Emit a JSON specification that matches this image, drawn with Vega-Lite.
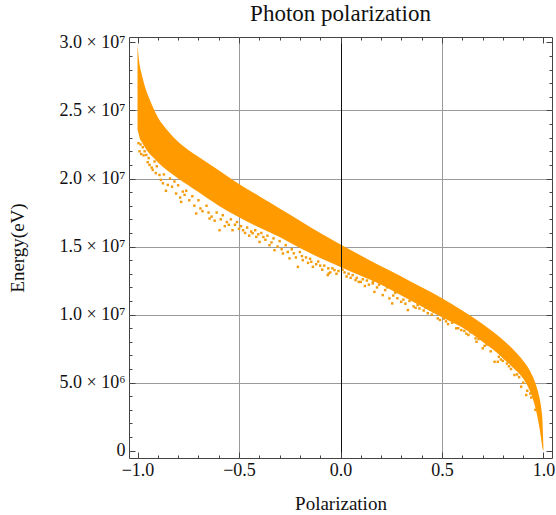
{
  "$schema": "https://vega.github.io/schema/vega-lite/v6.json",
  "width": 423,
  "height": 421,
  "autosize": {"type": "none"},
  "padding": {"left": 129, "top": 37, "right": 4, "bottom": 57},
  "background": "white",
  "title": {
    "text": "Photon polarization",
    "font": "Liberation Serif",
    "fontSize": 23,
    "fontWeight": "normal",
    "color": "#111111",
    "offset": 7
  },
  "config": {
    "view": {"stroke": "#444444", "strokeWidth": 1},
    "axis": {
      "labelFont": "Liberation Serif",
      "titleFont": "Liberation Serif",
      "labelFontSize": 18,
      "titleFontSize": 19,
      "titleFontWeight": "normal",
      "labelColor": "#111111",
      "titleColor": "#111111",
      "tickColor": "#444444",
      "domain": false,
      "grid": false
    }
  },
  "datasets": {
    "band": [
      {"p": -1.0, "upper": 2.99e7, "lower": 2.36e7},
      {"p": -0.995, "upper": 2.90e7, "lower": 2.33e7},
      {"p": -0.99, "upper": 2.84e7, "lower": 2.30e7},
      {"p": -0.98, "upper": 2.77e7, "lower": 2.27e7},
      {"p": -0.96, "upper": 2.66e7, "lower": 2.22e7},
      {"p": -0.94, "upper": 2.58e7, "lower": 2.18e7},
      {"p": -0.92, "upper": 2.51e7, "lower": 2.15e7},
      {"p": -0.9, "upper": 2.45e7, "lower": 2.12e7},
      {"p": -0.85, "upper": 2.35e7, "lower": 2.055e7},
      {"p": -0.8, "upper": 2.27e7, "lower": 2.00e7},
      {"p": -0.75, "upper": 2.21e7, "lower": 1.95e7},
      {"p": -0.7, "upper": 2.16e7, "lower": 1.90e7},
      {"p": -0.6, "upper": 2.06e7, "lower": 1.80e7},
      {"p": -0.5, "upper": 1.96e7, "lower": 1.715e7},
      {"p": -0.4, "upper": 1.87e7, "lower": 1.64e7},
      {"p": -0.3, "upper": 1.78e7, "lower": 1.57e7},
      {"p": -0.2, "upper": 1.69e7, "lower": 1.49e7},
      {"p": -0.1, "upper": 1.60e7, "lower": 1.415e7},
      {"p": 0.0, "upper": 1.515e7, "lower": 1.35e7},
      {"p": 0.1, "upper": 1.435e7, "lower": 1.285e7},
      {"p": 0.2, "upper": 1.355e7, "lower": 1.22e7},
      {"p": 0.3, "upper": 1.28e7, "lower": 1.14e7},
      {"p": 0.4, "upper": 1.20e7, "lower": 1.06e7},
      {"p": 0.5, "upper": 1.12e7, "lower": 0.98e7},
      {"p": 0.6, "upper": 1.03e7, "lower": 0.905e7},
      {"p": 0.7, "upper": 0.93e7, "lower": 0.80e7},
      {"p": 0.75, "upper": 0.875e7, "lower": 0.745e7},
      {"p": 0.8, "upper": 0.815e7, "lower": 0.68e7},
      {"p": 0.85, "upper": 0.745e7, "lower": 0.61e7},
      {"p": 0.9, "upper": 0.66e7, "lower": 0.53e7},
      {"p": 0.93, "upper": 0.595e7, "lower": 0.45e7},
      {"p": 0.95, "upper": 0.535e7, "lower": 0.37e7},
      {"p": 0.97, "upper": 0.45e7, "lower": 0.25e7},
      {"p": 0.98, "upper": 0.39e7, "lower": 0.17e7},
      {"p": 0.99, "upper": 0.30e7, "lower": 0.07e7},
      {"p": 0.995, "upper": 0.22e7, "lower": 0.02e7},
      {"p": 1.0, "upper": 0.0, "lower": 0.0}
    ],
    "scatter": [
      {"p": -0.995, "e": 2.26e7},
      {"p": -0.99, "e": 2.20e7},
      {"p": -0.985, "e": 2.25e7},
      {"p": -0.982, "e": 2.18e7},
      {"p": -0.974, "e": 2.23e7},
      {"p": -0.97, "e": 2.17e7},
      {"p": -0.965, "e": 2.20e7},
      {"p": -0.957, "e": 2.173e7},
      {"p": -0.95, "e": 2.12e7},
      {"p": -0.945, "e": 2.15e7},
      {"p": -0.941, "e": 2.100e7},
      {"p": -0.93, "e": 2.08e7},
      {"p": -0.925, "e": 2.063e7},
      {"p": -0.916, "e": 2.125e7},
      {"p": -0.91, "e": 2.04e7},
      {"p": -0.905, "e": 2.09e7},
      {"p": -0.892, "e": 2.026e7},
      {"p": -0.885, "e": 1.99e7},
      {"p": -0.875, "e": 1.965e7},
      {"p": -0.87, "e": 2.03e7},
      {"p": -0.86, "e": 1.91e7},
      {"p": -0.851, "e": 1.953e7},
      {"p": -0.84, "e": 2.00e7},
      {"p": -0.83, "e": 1.94e7},
      {"p": -0.818, "e": 1.978e7},
      {"p": -0.81, "e": 1.89e7},
      {"p": -0.8, "e": 1.95e7},
      {"p": -0.79, "e": 1.86e7},
      {"p": -0.785, "e": 1.828e7},
      {"p": -0.777, "e": 1.904e7},
      {"p": -0.768, "e": 1.880e7},
      {"p": -0.76, "e": 1.91e7},
      {"p": -0.745, "e": 1.84e7},
      {"p": -0.73, "e": 1.87e7},
      {"p": -0.72, "e": 1.80e7},
      {"p": -0.711, "e": 1.743e7},
      {"p": -0.7, "e": 1.84e7},
      {"p": -0.69, "e": 1.78e7},
      {"p": -0.68, "e": 1.76e7},
      {"p": -0.66, "e": 1.80e7},
      {"p": -0.65, "e": 1.75e7},
      {"p": -0.645, "e": 1.706e7},
      {"p": -0.635, "e": 1.72e7},
      {"p": -0.62, "e": 1.69e7},
      {"p": -0.61, "e": 1.75e7},
      {"p": -0.596, "e": 1.620e7},
      {"p": -0.59, "e": 1.70e7},
      {"p": -0.58, "e": 1.73e7},
      {"p": -0.57, "e": 1.65e7},
      {"p": -0.56, "e": 1.68e7},
      {"p": -0.55, "e": 1.66e7},
      {"p": -0.54, "e": 1.70e7},
      {"p": -0.532, "e": 1.620e7},
      {"p": -0.52, "e": 1.66e7},
      {"p": -0.51, "e": 1.68e7},
      {"p": -0.5, "e": 1.63e7},
      {"p": -0.49, "e": 1.65e7},
      {"p": -0.48, "e": 1.62e7},
      {"p": -0.47, "e": 1.60e7},
      {"p": -0.46, "e": 1.64e7},
      {"p": -0.45, "e": 1.58e7},
      {"p": -0.44, "e": 1.61e7},
      {"p": -0.433, "e": 1.598e7},
      {"p": -0.42, "e": 1.62e7},
      {"p": -0.415, "e": 1.571e7},
      {"p": -0.405, "e": 1.59e7},
      {"p": -0.399, "e": 1.534e7},
      {"p": -0.39, "e": 1.60e7},
      {"p": -0.38, "e": 1.57e7},
      {"p": -0.37, "e": 1.55e7},
      {"p": -0.36, "e": 1.58e7},
      {"p": -0.35, "e": 1.510e7},
      {"p": -0.34, "e": 1.53e7},
      {"p": -0.33, "e": 1.56e7},
      {"p": -0.325, "e": 1.473e7},
      {"p": -0.31, "e": 1.50e7},
      {"p": -0.3, "e": 1.54e7},
      {"p": -0.29, "e": 1.48e7},
      {"p": -0.284, "e": 1.449e7},
      {"p": -0.27, "e": 1.51e7},
      {"p": -0.26, "e": 1.46e7},
      {"p": -0.251, "e": 1.413e7},
      {"p": -0.24, "e": 1.48e7},
      {"p": -0.23, "e": 1.45e7},
      {"p": -0.22, "e": 1.42e7},
      {"p": -0.21, "e": 1.351e7},
      {"p": -0.2, "e": 1.46e7},
      {"p": -0.19, "e": 1.43e7},
      {"p": -0.186, "e": 1.400e7},
      {"p": -0.17, "e": 1.42e7},
      {"p": -0.16, "e": 1.38e7},
      {"p": -0.15, "e": 1.41e7},
      {"p": -0.144, "e": 1.388e7},
      {"p": -0.136, "e": 1.351e7},
      {"p": -0.12, "e": 1.37e7},
      {"p": -0.11, "e": 1.39e7},
      {"p": -0.1, "e": 1.36e7},
      {"p": -0.09, "e": 1.33e7},
      {"p": -0.08, "e": 1.36e7},
      {"p": -0.063, "e": 1.290e7},
      {"p": -0.06, "e": 1.34e7},
      {"p": -0.058, "e": 1.302e7},
      {"p": -0.05, "e": 1.31e7},
      {"p": -0.04, "e": 1.34e7},
      {"p": -0.03, "e": 1.327e7},
      {"p": -0.02, "e": 1.30e7},
      {"p": -0.01, "e": 1.32e7},
      {"p": 0.01, "e": 1.33e7},
      {"p": 0.02, "e": 1.31e7},
      {"p": 0.03, "e": 1.28e7},
      {"p": 0.04, "e": 1.30e7},
      {"p": 0.05, "e": 1.27e7},
      {"p": 0.06, "e": 1.29e7},
      {"p": 0.074, "e": 1.253e7},
      {"p": 0.08, "e": 1.27e7},
      {"p": 0.09, "e": 1.24e7},
      {"p": 0.1, "e": 1.24e7},
      {"p": 0.11, "e": 1.26e7},
      {"p": 0.12, "e": 1.21e7},
      {"p": 0.13, "e": 1.25e7},
      {"p": 0.14, "e": 1.22e7},
      {"p": 0.159, "e": 1.229e7},
      {"p": 0.16, "e": 1.24e7},
      {"p": 0.167, "e": 1.167e7},
      {"p": 0.18, "e": 1.20e7},
      {"p": 0.19, "e": 1.22e7},
      {"p": 0.208, "e": 1.143e7},
      {"p": 0.22, "e": 1.18e7},
      {"p": 0.23, "e": 1.20e7},
      {"p": 0.241, "e": 1.119e7},
      {"p": 0.255, "e": 1.082e7},
      {"p": 0.26, "e": 1.14e7},
      {"p": 0.27, "e": 1.16e7},
      {"p": 0.28, "e": 1.12e7},
      {"p": 0.299, "e": 1.094e7},
      {"p": 0.31, "e": 1.11e7},
      {"p": 0.32, "e": 1.08e7},
      {"p": 0.332, "e": 1.033e7},
      {"p": 0.34, "e": 1.10e7},
      {"p": 0.36, "e": 1.06e7},
      {"p": 0.37, "e": 1.05e7},
      {"p": 0.38, "e": 1.07e7},
      {"p": 0.389, "e": 1.045e7},
      {"p": 0.41, "e": 1.03e7},
      {"p": 0.42, "e": 1.05e7},
      {"p": 0.43, "e": 1.01e7},
      {"p": 0.45, "e": 1.00e7},
      {"p": 0.46, "e": 1.02e7},
      {"p": 0.479, "e": 0.972e7},
      {"p": 0.49, "e": 0.96e7},
      {"p": 0.51, "e": 0.97e7},
      {"p": 0.52, "e": 0.95e7},
      {"p": 0.53, "e": 0.93e7},
      {"p": 0.55, "e": 0.94e7},
      {"p": 0.57, "e": 0.899e7},
      {"p": 0.58, "e": 0.90e7},
      {"p": 0.595, "e": 0.886e7},
      {"p": 0.61, "e": 0.88e7},
      {"p": 0.62, "e": 0.86e7},
      {"p": 0.63, "e": 0.85e7},
      {"p": 0.64, "e": 0.87e7},
      {"p": 0.665, "e": 0.825e7},
      {"p": 0.67, "e": 0.80e7},
      {"p": 0.68, "e": 0.82e7},
      {"p": 0.701, "e": 0.752e7},
      {"p": 0.71, "e": 0.77e7},
      {"p": 0.72, "e": 0.78e7},
      {"p": 0.74, "e": 0.73e7},
      {"p": 0.759, "e": 0.653e7},
      {"p": 0.775, "e": 0.653e7},
      {"p": 0.78, "e": 0.69e7},
      {"p": 0.79, "e": 0.67e7},
      {"p": 0.8, "e": 0.66e7},
      {"p": 0.82, "e": 0.64e7},
      {"p": 0.83, "e": 0.62e7},
      {"p": 0.84, "e": 0.60e7},
      {"p": 0.857, "e": 0.556e7},
      {"p": 0.87, "e": 0.56e7},
      {"p": 0.88, "e": 0.54e7},
      {"p": 0.89, "e": 0.470e7},
      {"p": 0.9, "e": 0.50e7},
      {"p": 0.915, "e": 0.409e7},
      {"p": 0.92, "e": 0.44e7},
      {"p": 0.935, "e": 0.42e7},
      {"p": 0.94, "e": 0.39e7},
      {"p": 0.96, "e": 0.30e7}
    ]
  },
  "resolve": {"axis": {"x": "independent", "y": "independent"}},
  "layer": [
    {
      "data": {"name": "scatter"},
      "mark": {"type": "point", "opacity": 0},
      "encoding": {
        "x": {"field": "p", "type": "quantitative",
          "axis": {"orient": "bottom", "values": [-0.5, 0.5], "grid": true, "gridColor": "#9a9a9a", "gridWidth": 1, "ticks": false, "labels": false, "title": null, "zindex": 0}},
        "y": {"field": "e", "type": "quantitative",
          "axis": {"orient": "left", "values": [5000000, 10000000, 15000000, 20000000, 25000000], "grid": true, "gridColor": "#9a9a9a", "gridWidth": 1, "ticks": false, "labels": false, "title": null, "zindex": 0}}
      }
    },
    {
      "data": {"name": "band"},
      "mark": {"type": "area", "color": "#ff9a00", "opacity": 1, "interpolate": "monotone"},
      "encoding": {
        "x": {"field": "p", "type": "quantitative",
          "scale": {"domain": [-1.042, 1.042], "nice": false, "zero": false},
          "axis": {"orient": "bottom", "values": [-1, -0.5, 0, 0.5, 1], "format": ".1f", "ticks": false, "tickSize": 0, "labelPadding": 3, "title": "Polarization", "titlePadding": 15, "zindex": 1}},
        "y": {"field": "upper", "type": "quantitative",
          "scale": {"domain": [-540000, 30400000], "nice": false, "zero": false},
          "axis": {"orient": "left", "values": [0, 5000000, 10000000, 15000000, 20000000, 25000000, 30000000], "ticks": false, "tickSize": 0, "labelPadding": 4,
            "labelExpr": "datum.value === 0 ? '0' : (datum.value < 10000000 ? format(datum.value / 1000000, '.1f') + ' × 10⁶' : format(datum.value / 10000000, '.1f') + ' × 10⁷')",
            "title": "Energy(eV)", "titlePadding": 32, "zindex": 1}},
        "y2": {"field": "lower"}
      }
    },
    {
      "data": {"name": "scatter"},
      "mark": {"type": "square", "size": 6, "color": "#f39c0e", "opacity": 1},
      "encoding": {
        "x": {"field": "p", "type": "quantitative",
          "axis": {"orient": "top", "values": [-1, -0.5, 0, 0.5, 1], "labels": false, "tickSize": -6, "title": null, "zindex": 1}},
        "y": {"field": "e", "type": "quantitative",
          "axis": {"orient": "right", "values": [0, 5000000, 10000000, 15000000, 20000000, 25000000, 30000000], "labels": false, "tickSize": -6, "title": null, "zindex": 1}}
      }
    },
    {
      "data": {"name": "scatter"},
      "mark": {"type": "point", "opacity": 0},
      "encoding": {
        "x": {"field": "p", "type": "quantitative",
          "axis": {"orient": "bottom", "values": [-1, -0.5, 0, 0.5, 1], "labels": false, "tickSize": -6, "title": null, "zindex": 1}},
        "y": {"field": "e", "type": "quantitative",
          "axis": {"orient": "left", "values": [0, 5000000, 10000000, 15000000, 20000000, 25000000, 30000000], "labels": false, "tickSize": -6, "title": null, "zindex": 1}}
      }
    },
    {
      "data": {"name": "scatter"},
      "mark": {"type": "point", "opacity": 0},
      "encoding": {
        "x": {"field": "p", "type": "quantitative",
          "axis": {"orient": "bottom", "values": [-0.9, -0.8, -0.7, -0.6, -0.4, -0.3, -0.2, -0.1, 0.1, 0.2, 0.3, 0.4, 0.6, 0.7, 0.8, 0.9], "labels": false, "tickSize": -3, "title": null, "zindex": 1}},
        "y": {"field": "e", "type": "quantitative",
          "axis": {"orient": "left", "values": [1000000, 2000000, 3000000, 4000000, 6000000, 7000000, 8000000, 9000000, 11000000, 12000000, 13000000, 14000000, 16000000, 17000000, 18000000, 19000000, 21000000, 22000000, 23000000, 24000000, 26000000, 27000000, 28000000, 29000000], "labels": false, "tickSize": -3, "title": null, "zindex": 1}}
      }
    },
    {
      "data": {"name": "scatter"},
      "mark": {"type": "point", "opacity": 0},
      "encoding": {
        "x": {"field": "p", "type": "quantitative",
          "axis": {"orient": "top", "values": [-0.9, -0.8, -0.7, -0.6, -0.4, -0.3, -0.2, -0.1, 0.1, 0.2, 0.3, 0.4, 0.6, 0.7, 0.8, 0.9], "labels": false, "tickSize": -3, "title": null, "zindex": 1}},
        "y": {"field": "e", "type": "quantitative",
          "axis": {"orient": "right", "values": [1000000, 2000000, 3000000, 4000000, 6000000, 7000000, 8000000, 9000000, 11000000, 12000000, 13000000, 14000000, 16000000, 17000000, 18000000, 19000000, 21000000, 22000000, 23000000, 24000000, 26000000, 27000000, 28000000, 29000000], "labels": false, "tickSize": -3, "title": null, "zindex": 1}}
      }
    },
    {
      "data": {"name": "scatter"},
      "mark": {"type": "point", "opacity": 0},
      "encoding": {
        "x": {"field": "p", "type": "quantitative",
          "axis": {"orient": "bottom", "values": [0], "grid": true, "gridColor": "#111111", "gridWidth": 1, "ticks": false, "labels": false, "title": null, "zindex": 1}},
        "y": {"field": "e", "type": "quantitative", "axis": null}
      }
    }
  ]
}
